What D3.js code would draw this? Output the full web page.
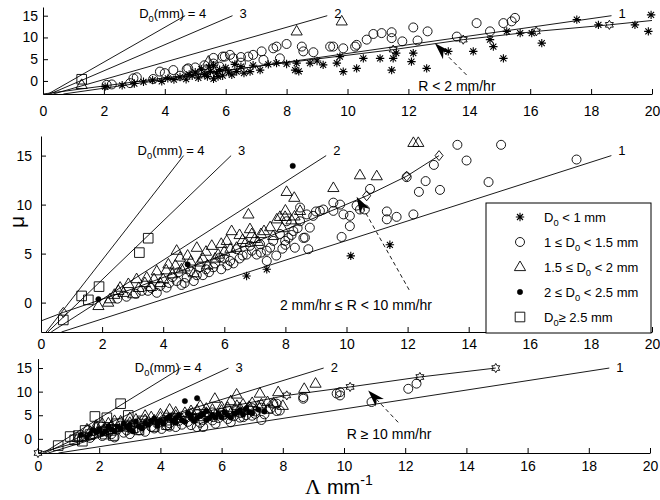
<!DOCTYPE html>
<html>
<head>
<meta charset="utf-8">
<script src="https://cdn.jsdelivr.net/npm/d3@7"></script>
<style>
  body { margin: 0; background: #fff; }
</style>
</head>
<body>
<div id="chart"></div>
<script>
//
// mu - Lambda scatter, three rain-rate classes
//
var lambdaTicks = [0, 2, 4, 6, 8, 10, 12, 14, 16, 18, 20];
var muTicks = [0, 5, 10, 15];
var d0Values = [4, 3, 2, 1];
var muSpan = [-3, 15];          // constant-D0 lines run over this mu range
var gammaShift = 3.67;          // D0 * Lambda = 3.67 + mu

// ---- panel 1 : R < 2 mm/hr ----
var p1Ast = [[2.04,-1.3],[2.6,-1.0],[3.0,-0.6],[3.3,-0.2],[3.6,0.2],[3.9,-0.1],[4.1,0.6],[4.3,0.3],[4.5,0.9],[4.7,0.4],[4.8,1.5],[4.9,1.2],[5.0,2.0],[5.1,0.7],[5.2,2.7],[5.3,1.5],[5.4,1.0],[5.45,3.2],[5.5,2.2],[5.6,0.5],[5.6,3.6],[5.7,1.8],[5.75,1.0],[5.8,2.6],[5.9,1.2],[6.0,3.0],[6.1,2.0],[6.2,1.4],[6.3,3.8],[6.36,2.15],[6.5,3.3],[6.6,1.8],[6.8,2.15],[6.9,3.6],[7.13,2.5],[7.4,3.8],[7.67,4.1],[8.0,3.9],[8.28,2.5],[8.33,4.1],[8.4,2.2],[8.77,4.1],[9.0,4.6],[9.2,3.7],[9.65,4.1],[9.75,5.6],[9.86,2.15],[10.3,2.9],[10.52,5.2],[11.07,5.2],[11.45,2.5],[11.5,5.2],[11.6,6.4],[12.1,4.45],[12.16,6.4],[12.6,2.9],[13.31,6.8],[14.13,6.8],[14.68,9.5],[14.79,7.9],[15.12,5.2],[15.23,11.4],[15.67,11.0],[16.05,11.0],[16.38,8.7],[17.53,14.1],[18.24,12.9],[19.44,12.9],[19.88,11.4],[19.97,15.2]];
var p1Circ = [[2.09,-0.9],[2.26,-0.8],[2.86,-0.5],[2.97,0.6],[3.08,0.85],[3.62,0.45],[3.84,2.15],[4.0,1.8],[4.28,2.5],[4.5,1.2],[4.72,2.7],[4.77,2.9],[5.0,3.1],[5.2,2.0],[5.3,3.6],[5.6,4.0],[5.6,5.3],[5.8,3.3],[5.9,5.6],[5.97,5.6],[6.14,6.0],[6.25,5.2],[6.5,5.5],[6.5,4.2],[6.74,5.6],[6.9,6.0],[7.18,6.8],[7.24,4.85],[7.56,7.5],[7.67,7.9],[7.78,5.2],[8.0,8.5],[8.5,7.9],[8.55,6.8],[8.88,6.6],[9.43,7.9],[9.53,7.9],[9.86,7.5],[10.25,7.9],[10.3,8.3],[10.63,9.5],[10.85,10.8],[11.12,11.0],[11.45,11.2],[11.45,9.85],[11.8,9.1],[12.16,12.3],[12.3,9.3],[12.63,11.4],[13.59,10.2],[14.24,13.3],[14.68,11.4],[15.12,13.3],[15.39,13.7],[15.5,14.5]];
var p1Tri = [[1.27,-0.9],[5.43,4.45],[8.33,11.4],[9.81,13.7]];
var p1Dot = [];
var p1Sq = [[1.27,0.39]];
var p1Fit = [[0,-3],[4,0.7],[8,4.2],[11.5,7.2],[13.8,9.5],[16.2,11.4],[18.6,12.9],[20,13.9]];
var p1FitMarks = [[11.5,7.2],[13.8,9.5],[16.2,11.4],[18.6,12.9]];

// ---- panel 2 : 2 <= R < 10 mm/hr ----
var p2Ast = [[6.73,2.72],[7.39,3.4],[10.14,4.77],[11.42,5.9]];
var p2Circ = [[2.5,0.4],[2.8,0.6],[3.1,0.9],[3.3,1.2],[3.5,1.2],[3.6,1.5],[3.79,1.0],[3.9,1.7],[4.11,1.53],[4.2,2.0],[4.3,2.6],[4.44,2.2],[4.5,3.1],[4.6,1.8],[4.7,2.0],[4.77,2.55],[4.88,3.2],[5.0,2.2],[5.1,2.8],[5.2,3.6],[5.3,2.8],[5.4,3.4],[5.5,3.1],[5.64,3.6],[5.7,4.0],[5.86,4.6],[5.9,3.4],[6.0,4.5],[6.1,3.8],[6.19,4.25],[6.3,4.0],[6.4,5.45],[6.5,4.5],[6.6,4.8],[6.73,4.9],[6.84,5.8],[6.9,5.3],[7.06,4.9],[7.17,5.95],[7.2,5.1],[7.39,4.25],[7.39,5.3],[7.5,5.6],[7.6,6.3],[7.7,4.8],[7.82,7.0],[7.9,5.5],[7.99,6.3],[8.0,5.9],[8.04,8.3],[8.1,6.6],[8.2,6.9],[8.26,7.3],[8.31,5.6],[8.4,7.6],[8.48,8.3],[8.48,9.7],[8.59,6.6],[8.64,6.63],[8.7,9.0],[8.75,5.45],[8.8,7.65],[8.91,8.85],[9.0,9.3],[9.13,9.36],[9.24,9.5],[9.57,10.2],[9.57,9.36],[9.79,10.0],[9.84,6.7],[9.9,9.0],[10.11,7.8],[10.11,8.85],[10.33,9.9],[10.44,9.5],[10.6,9.5],[10.77,11.6],[11.32,9.3],[11.32,8.5],[11.64,8.75],[11.97,12.8],[12.19,9.0],[12.37,11.3],[12.59,12.4],[12.86,14.05],[13.06,11.5],[13.63,16.1],[13.93,14.5],[14.65,12.3],[15.06,16.1],[17.53,14.6]];
var p2Tri = [[1.88,-0.34],[2.2,0.0],[2.26,0.35],[2.4,0.8],[2.53,1.2],[2.59,1.53],[2.7,1.0],[2.86,1.9],[3.02,0.86],[3.13,2.4],[3.2,1.5],[3.4,2.0],[3.46,2.55],[3.6,1.6],[3.7,2.4],[3.79,3.2],[3.9,2.0],[4.0,2.4],[4.1,3.3],[4.17,3.9],[4.3,2.9],[4.4,3.8],[4.44,5.3],[4.55,4.6],[4.6,3.4],[4.7,3.6],[4.8,4.8],[4.9,4.2],[5.0,3.0],[5.1,5.6],[5.2,4.1],[5.3,4.5],[5.4,5.2],[5.45,3.8],[5.59,5.8],[5.7,4.5],[5.8,4.9],[5.9,6.0],[6.0,5.2],[6.08,6.3],[6.2,5.5],[6.24,7.3],[6.4,5.6],[6.5,6.9],[6.6,6.4],[6.7,6.1],[6.79,9.0],[6.84,7.5],[6.9,7.0],[7.0,6.5],[7.1,6.2],[7.2,7.0],[7.3,7.3],[7.5,7.7],[7.6,6.8],[7.72,8.5],[7.82,8.75],[7.9,7.6],[7.99,8.75],[8.0,9.4],[8.04,11.3],[8.2,8.4],[8.29,10.7],[8.3,8.8],[8.48,9.36],[9.57,11.7],[10.44,13.0],[10.99,12.9],[12.19,16.3],[12.35,16.3]];
var p2Dot = [[1.88,0.35],[8.24,13.95],[4.8,3.9]];
var p2Sq = [[0.73,-1.77],[1.33,0.68],[1.55,0.28],[1.9,1.63],[3.22,5.1],[3.51,6.57]];
var p2Fit = [[0,-1.87],[0.73,-1.0],[3,1.4],[6,4.9],[9,8.7],[10.66,10.9],[11.97,12.9],[13.03,15.0]];
var p2FitMarks = [[0.73,-1.0],[10.66,10.9],[11.97,12.9],[13.03,15.0]];

// ---- panel 3 : R >= 10 mm/hr ----
var p3Ast = [];
var p3Circ = [[1.5,0.5],[1.7,0.2],[1.8,1.0],[2.0,1.6],[2.1,0.6],[2.2,2.2],[2.3,1.3],[2.4,1.0],[2.5,0.3],[2.6,2.0],[2.7,2.8],[2.8,1.3],[2.9,1.8],[3.0,1.0],[3.1,3.0],[3.2,2.2],[3.3,1.8],[3.4,2.8],[3.5,1.5],[3.6,3.5],[3.7,2.5],[3.8,2.2],[3.9,3.2],[4.04,2.1],[4.1,4.0],[4.2,2.8],[4.3,2.6],[4.3,3.3],[4.4,4.5],[4.5,2.5],[4.6,3.8],[4.7,3.0],[4.8,4.6],[4.9,3.6],[5.0,2.9],[5.1,4.3],[5.19,2.5],[5.2,5.2],[5.3,3.4],[5.4,2.5],[5.4,4.0],[5.5,5.0],[5.6,4.8],[5.7,3.9],[5.7,5.6],[5.73,4.6],[5.8,3.2],[5.9,4.4],[6.0,5.5],[6.05,4.96],[6.1,5.2],[6.2,4.2],[6.2,6.0],[6.3,3.5],[6.4,4.8],[6.5,6.0],[6.6,4.5],[6.6,5.5],[6.71,4.6],[6.8,5.0],[6.9,6.2],[7.0,4.9],[7.0,6.5],[7.09,5.3],[7.1,5.8],[7.3,4.0],[7.3,6.6],[7.4,5.2],[7.6,6.4],[7.69,7.45],[7.8,5.9],[7.8,7.45],[7.9,6.0],[8.67,8.5],[8.67,8.85],[9.76,9.6],[9.87,9.2],[9.87,9.9],[10.9,7.8],[12.1,10.6],[12.37,11.7]];
var p3Tri = [[1.3,0.2],[1.6,2.0],[1.7,1.5],[1.9,2.3],[1.9,2.8],[2.1,3.2],[2.15,1.8],[2.3,3.3],[2.4,2.7],[2.5,3.8],[2.7,3.7],[2.8,2.4],[3.0,3.4],[3.0,4.4],[3.2,4.1],[3.3,3.3],[3.5,4.0],[3.5,4.9],[3.7,4.6],[3.8,3.9],[4.0,4.5],[4.0,5.2],[4.2,3.7],[4.2,5.0],[4.3,6.2],[4.5,4.9],[4.5,5.6],[4.7,4.2],[4.8,5.5],[5.0,5.2],[5.0,5.9],[5.2,6.0],[5.3,4.6],[5.3,7.0],[5.5,5.5],[5.5,6.4],[5.7,6.2],[5.78,8.5],[5.8,5.0],[6.0,6.0],[6.0,6.7],[6.2,6.6],[6.3,5.4],[6.3,8.0],[6.49,9.4],[6.5,7.0],[6.6,6.5],[6.7,7.3],[6.8,5.9],[6.9,6.8],[7.0,7.6],[7.2,6.9],[7.25,9.6],[7.3,7.3],[7.5,6.2],[7.5,7.8],[7.7,7.5],[7.85,9.9],[8.0,7.0],[8.7,10.6],[9.07,11.7]];
var p3Dot = [[1.4,0.8],[1.6,0.3],[1.7,1.0],[1.8,1.9],[1.9,1.4],[2.0,2.0],[2.1,1.2],[2.2,1.6],[2.3,2.6],[2.4,2.0],[2.5,1.6],[2.6,2.6],[2.7,2.2],[2.8,3.2],[2.9,2.6],[3.0,2.0],[3.0,3.0],[3.1,1.6],[3.2,3.7],[3.3,2.6],[3.4,2.2],[3.5,3.4],[3.6,3.0],[3.7,3.8],[3.8,4.3],[3.9,2.8],[3.9,3.5],[4.0,3.8],[4.1,3.2],[4.2,4.3],[4.3,4.8],[4.4,3.9],[4.5,3.4],[4.5,4.4],[4.6,5.0],[4.7,4.0],[4.8,3.6],[4.8,8.0],[4.9,5.5],[5.0,4.4],[5.0,5.0],[5.1,3.8],[5.2,4.5],[5.2,8.6],[5.3,4.9],[5.4,5.3],[5.5,4.0],[5.5,5.9],[5.6,4.4],[5.7,5.0],[5.8,4.6],[5.9,5.3],[6.0,4.6],[6.1,5.6],[6.2,5.0],[6.3,4.5],[6.4,5.3],[6.5,5.6],[6.6,6.0],[6.7,5.1],[6.8,6.4],[6.9,5.7],[7.0,5.4],[7.2,6.2],[7.4,5.8]];
var p3Sq = [[0.66,-1.43],[1.05,0.49],[1.2,-0.2],[1.32,0.7],[1.45,-0.5],[1.54,1.77],[1.7,0.9],[1.86,4.74],[2.0,2.5],[2.2,1.0],[2.25,4.47],[2.4,1.8],[2.46,0.7],[2.6,3.2],[2.7,7.45],[2.95,4.96],[3.1,2.3],[3.3,1.9],[3.4,3.8],[3.8,2.6],[4.2,3.0]];
var p3Fit = [[0,-3],[2,0.5],[4,3.7],[6,6.5],[8.13,9.2],[10.2,11.0],[12.48,13.1],[14.96,15.0]];
var p3FitMarks = [[0,-3],[8.13,9.2],[10.2,11.0],[12.48,13.1],[14.96,15.0]];

//
// layout of the three stacked panels
//
var panels = [
  { x: [43, 652], y: [94, 7], xPad: 12, yPad: 5, labelDy: 2,
    ast: p1Ast, circ: p1Circ, tri: p1Tri, dot: p1Dot, sq: p1Sq,
    fit: p1Fit, fitMarks: p1FitMarks, fitKind: "hex",
    note: { parts: [["R < 2 mm/hr"]], at: [12.32, -2.2], tail: [13.91, 1.38], tip: [12.87, 8.67] } },
  { x: [41, 652], y: [332, 136], xPad: 7, yPad: 9, labelDy: -1,
    ast: p2Ast, circ: p2Circ, tri: p2Tri, dot: p2Dot, sq: p2Sq,
    fit: p2Fit, fitMarks: p2FitMarks, fitKind: "dia",
    note: { parts: [["2 mm/hr \u2264 R < 10 mm/hr"]], at: [7.82, -0.75], tail: [12.05, 1.3], tip: [10.33, 10.8] } },
  { x: [38, 650], y: [453, 358.6], xPad: 8, yPad: 6, labelDy: 4,
    ast: p3Ast, circ: p3Circ, tri: p3Tri, dot: p3Dot, sq: p3Sq,
    fit: p3Fit, fitMarks: p3FitMarks, fitKind: "hex",
    note: { parts: [["R \u2265 10 mm/hr"]], at: [10.09, 0.05], tail: [11.77, 3.5], tip: [10.79, 10.25] } }
];

var legendItems = [
  { kind: "ast",  parts: [["D"], ["0", "sub"], [" < 1 mm"]] },
  { kind: "circ", parts: [["1 \u2264 D"], ["0", "sub"], [" < 1.5 mm"]] },
  { kind: "tri",  parts: [["1.5 \u2264 D"], ["0", "sub"], [" < 2 mm"]] },
  { kind: "dot",  parts: [["2 \u2264 D"], ["0", "sub"], [" < 2.5 mm"]] },
  { kind: "sq",   parts: [["D"], ["0", "sub"], ["\u2265 2.5 mm"]] }
];

var svg = d3.select("#chart")
  .append("svg")
    .attr("width", 660)
    .attr("height", 500)
    .style("font-family", "'Liberation Sans', Arial, Helvetica, sans-serif");

// marker outlines, centred on 0,0
function hexagram(r) {
  var pts = d3.range(12).map(function(i) {
    var a = -Math.PI / 2 + i * Math.PI / 6;
    var rr = i % 2 === 0 ? r : r / Math.sqrt(3);
    return [rr * Math.cos(a), rr * Math.sin(a)];
  });
  return "M" + pts.join("L") + "Z";
}
var markerPaths = {
  ast:  "M-4.2,0H4.2M0,-4.2V4.2M-3,-3L3,3M-3,3L3,-3",
  circ: "M4.5,0A4.5,4.5 0 1,1 -4.5,0A4.5,4.5 0 1,1 4.5,0Z",
  tri:  "M0,-6L5.6,3.6L-5.6,3.6Z",
  sq:   "M-4.8,-4.8H4.8V4.8H-4.8Z",
  dot:  "M2.7,0A2.7,2.7 0 1,1 -2.7,0A2.7,2.7 0 1,1 2.7,0Z",
  dia:  "M0,-5L4,0L0,5L-4,0Z",
  hex:  hexagram(4.6)
};
var markerStroke = { ast: 1.1, circ: 0.9, tri: 0.9, sq: 0.9, dot: 0.5, dia: 0.9, hex: 0.9 };

function drawMarkers(g, data, kind, xs, ys) {
  g.append("g")
    .selectAll("path")
    .data(data)
    .enter().append("path")
      .attr("d", markerPaths[kind])
      .attr("transform", function(d) { return "translate(" + xs(d[0]) + "," + ys(d[1]) + ")"; })
      .attr("fill", kind === "dot" ? "#000" : "none")
      .attr("stroke", "#000")
      .attr("stroke-width", markerStroke[kind]);
}

function richText(sel, parts, size) {
  var shift = 0;
  parts.forEach(function(p) {
    var target = p[1] === "sub" ? size * 0.32 : p[1] === "sup" ? -size * 0.45 : 0;
    sel.append("tspan")
      .attr("dy", target - shift)
      .style("font-size", (p[1] ? size * 0.72 : size) + "px")
      .text(p[0]);
    shift = target;
  });
}

function arrowHead(tip, tail) {
  var dx = tail[0] - tip[0], dy = tail[1] - tip[1];
  var len = Math.hypot(dx, dy), ux = dx / len, uy = dy / len;
  var nx = -uy, ny = ux, L = 17, W = 5.5, N = 12;
  var bx = tip[0] + ux * L, by = tip[1] + uy * L;
  return "M" + tip[0] + "," + tip[1] +
    "L" + (bx + nx * W) + "," + (by + ny * W) +
    "L" + (tip[0] + ux * N) + "," + (tip[1] + uy * N) +
    "L" + (bx - nx * W) + "," + (by - ny * W) + "Z";
}

panels.forEach(function(p) {
  var xs = d3.scaleLinear().domain([0, 20]).range(p.x);
  var ys = d3.scaleLinear().domain([-3, 17]).range(p.y);
  var g = svg.append("g");

  // axes: left and bottom only, ticks pointing inwards
  g.append("g")
    .attr("transform", "translate(0," + p.y[0] + ")")
    .call(d3.axisBottom(xs).tickValues(lambdaTicks).tickFormat(d3.format("d"))
      .tickSizeInner(-5).tickSizeOuter(0).tickPadding(p.xPad))
    .call(function(a) { a.selectAll("text").style("font-size", "14px").attr("fill", "#000"); })
    .call(function(a) { a.selectAll("line,path").attr("stroke", "#000"); });

  g.append("g")
    .attr("transform", "translate(" + p.x[0] + ",0)")
    .call(d3.axisLeft(ys).tickValues(muTicks).tickFormat(d3.format("d"))
      .tickSizeInner(-5).tickSizeOuter(0).tickPadding(p.yPad))
    .call(function(a) { a.selectAll("text").style("font-size", "14px").attr("fill", "#000"); })
    .call(function(a) { a.selectAll("line,path").attr("stroke", "#000"); });

  // constant-D0 lines
  var line = d3.line().x(function(d) { return xs(d[0]); }).y(function(d) { return ys(d[1]); });
  d0Values.forEach(function(d0) {
    var ends = muSpan.map(function(mu) { return [(mu + gammaShift) / d0, mu]; });
    g.append("path").attr("d", line(ends))
      .attr("fill", "none").attr("stroke", "#000").attr("stroke-width", 0.9);
    var top = ends[1];
    if (d0 === 4) {
      var t = g.append("text")
        .attr("x", xs(top[0]) + 21).attr("y", ys(top[1]) + p.labelDy)
        .attr("text-anchor", "end");
      richText(t, [["D"], ["0", "sub"], ["(mm) = 4"]], 13);
    } else {
      g.append("text")
        .attr("x", xs(top[0]) + 7).attr("y", ys(top[1]) + p.labelDy)
        .style("font-size", "13px")
        .text(d0);
    }
  });

  // fitted relation with its markers
  g.append("path").attr("d", line(p.fit))
    .attr("fill", "none").attr("stroke", "#000").attr("stroke-width", 0.9);

  drawMarkers(g, p.ast, "ast", xs, ys);
  drawMarkers(g, p.circ, "circ", xs, ys);
  drawMarkers(g, p.tri, "tri", xs, ys);
  drawMarkers(g, p.sq, "sq", xs, ys);
  drawMarkers(g, p.dot, "dot", xs, ys);
  drawMarkers(g, p.fitMarks, p.fitKind, xs, ys);

  // rain-rate annotation with dashed arrow
  var tip = [xs(p.note.tip[0]), ys(p.note.tip[1])];
  var tail = [xs(p.note.tail[0]), ys(p.note.tail[1])];
  var len = Math.hypot(tail[0] - tip[0], tail[1] - tip[1]);
  var notch = [tip[0] + (tail[0] - tip[0]) / len * 12, tip[1] + (tail[1] - tip[1]) / len * 12];
  g.append("line")
    .attr("x1", tail[0]).attr("y1", tail[1]).attr("x2", notch[0]).attr("y2", notch[1])
    .attr("stroke", "#000").attr("stroke-width", 0.9).attr("stroke-dasharray", "4,3");
  g.append("path").attr("d", arrowHead(tip, tail)).attr("fill", "#000");
  var nt = g.append("text").attr("x", xs(p.note.at[0])).attr("y", ys(p.note.at[1]));
  richText(nt, p.note.parts, 14);
});

// legend inside the middle panel
var legend = svg.append("g");
legend.append("rect")
  .attr("x", 486).attr("y", 203).attr("width", 165).attr("height", 130)
  .attr("fill", "#fff").attr("stroke", "#000").attr("stroke-width", 1);
legendItems.forEach(function(item, i) {
  var cy = 217 + i * 25;
  legend.append("path")
    .attr("d", markerPaths[item.kind])
    .attr("transform", "translate(520," + cy + ")")
    .attr("fill", item.kind === "dot" ? "#000" : "none")
    .attr("stroke", "#000").attr("stroke-width", markerStroke[item.kind]);
  var t = legend.append("text").attr("x", 544).attr("y", cy + 4.5);
  richText(t, item.parts, 13);
});

// axis titles
svg.append("text")
  .attr("transform", "translate(24,222) rotate(-90)")
  .attr("text-anchor", "middle")
  .style("font-size", "21px")
  .text("\u03bc");

var xt = svg.append("text").attr("x", 305).attr("y", 494);
xt.append("tspan").style("font-family", "'Liberation Serif', 'Times New Roman', serif").style("font-size", "22px").text("\u039b");
xt.append("tspan").attr("dx", 6).style("font-size", "20px").text("mm");
xt.append("tspan").attr("dy", -9).style("font-size", "14px").text("-1");
</script>
</body>
</html>
